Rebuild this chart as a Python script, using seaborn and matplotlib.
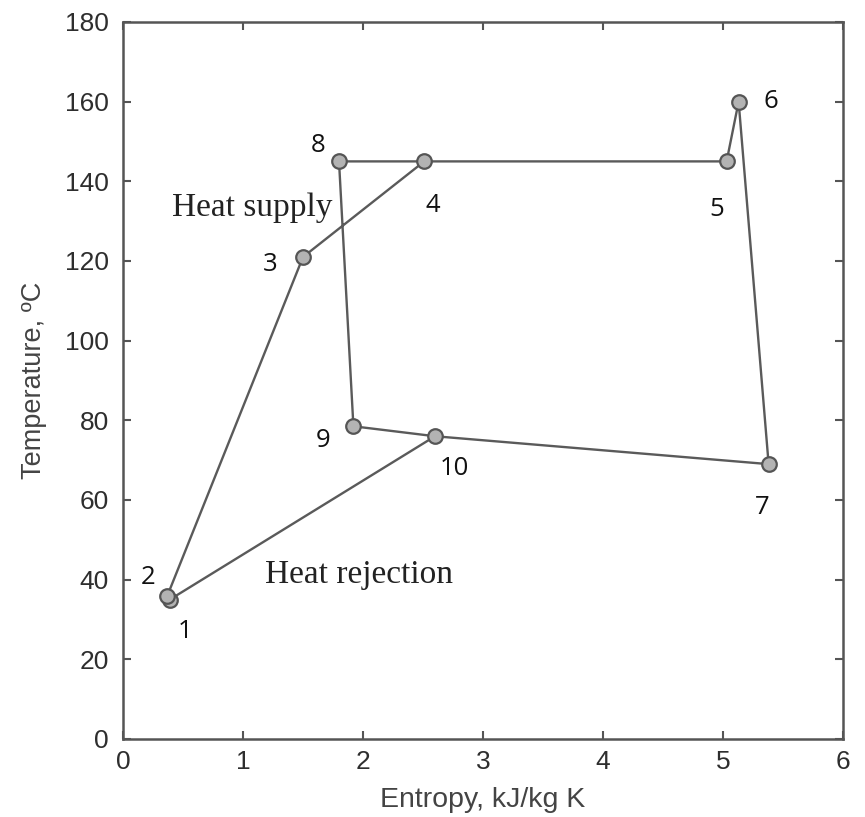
import matplotlib
matplotlib.use("Agg")
import matplotlib.pyplot as plt
import seaborn as sns
import pandas as pd

# State points of the cycle (entropy kJ/kg K, temperature degC)
point_labels = ["1", "2", "3", "4", "5", "6", "7", "8", "9", "10"]
entropy = [0.39, 0.37, 1.50, 2.51, 5.03, 5.13, 5.38, 1.80, 1.92, 2.60]
temperature = [35.0, 36.0, 121.0, 145.0, 145.0, 160.0, 69.0, 145.0, 78.5, 76.0]

# Order in which the points are connected
path_order = ["10", "1", "2", "3", "4", "5", "6", "7", "10", "9", "8", "4"]

x_ticks = [0, 1, 2, 3, 4, 5, 6]
y_ticks = [0, 20, 40, 60, 80, 100, 120, 140, 160, 180]

sns.set_theme(style="ticks")
plt.rcParams["font.family"] = ["Liberation Sans", "DejaVu Sans"]

pts = pd.DataFrame({"label": point_labels, "s": entropy, "T": temperature})
lookup = pts.set_index("label")
path = pd.DataFrame({
    "s": [lookup.loc[k, "s"] for k in path_order],
    "T": [lookup.loc[k, "T"] for k in path_order],
    "step": range(len(path_order)),
})

fig = plt.figure(figsize=(8.65, 8.17), dpi=100)
ax = fig.add_axes([0.1422, 0.0955, 0.8324, 0.8776])

sns.lineplot(data=path, x="s", y="T", sort=False, estimator=None,
             color="#5a5a5a", linewidth=1.7, ax=ax)
sns.scatterplot(data=pts, x="s", y="T", s=110, color="#b3b3b3",
                edgecolor="#555555", linewidth=1.6, zorder=3, ax=ax)

# label positions (data units) next to points
label_pos = {
    "1": (0.52, 27), "2": (0.21, 40.5), "3": (1.23, 119), "4": (2.58, 134),
    "5": (4.95, 133), "6": (5.40, 160), "7": (5.33, 58), "8": (1.63, 149),
    "9": (1.67, 75), "10": (2.76, 68),
}
for lab in point_labels:
    x, y = label_pos[lab]
    ax.text(x, y, lab, ha="center", va="center", fontsize=18.5,
            family=["Open Sans", "DejaVu Sans"], color="#111111")

ax.text(1.08, 133.4, "Heat supply", ha="center", va="center", fontsize=24,
        family=["Liberation Serif", "DejaVu Serif"], color="#222222")
ax.text(1.97, 41.2, "Heat rejection", ha="center", va="center", fontsize=24,
        family=["Liberation Serif", "DejaVu Serif"], color="#222222")

ax.set_xlim(0, 6)
ax.set_ylim(0, 180)
ax.set_xticks(x_ticks)
ax.set_yticks(y_ticks)
ax.tick_params(direction="in", top=True, right=True, length=6, width=1.5,
               labelsize=19, colors="#555555", labelcolor="#2e2e2e")
ax.tick_params(axis="x", pad=8)
ax.tick_params(axis="y", pad=10)
for sp in ax.spines.values():
    sp.set_color("#555555")
    sp.set_linewidth(1.8)
ax.set_xlabel("Entropy, kJ/kg K", fontsize=20.5, color="#444444", labelpad=9)
ax.set_ylabel("Temperature, \u00baC", fontsize=19.5, color="#444444", labelpad=13)

fig.savefig("out.png", dpi=100)
